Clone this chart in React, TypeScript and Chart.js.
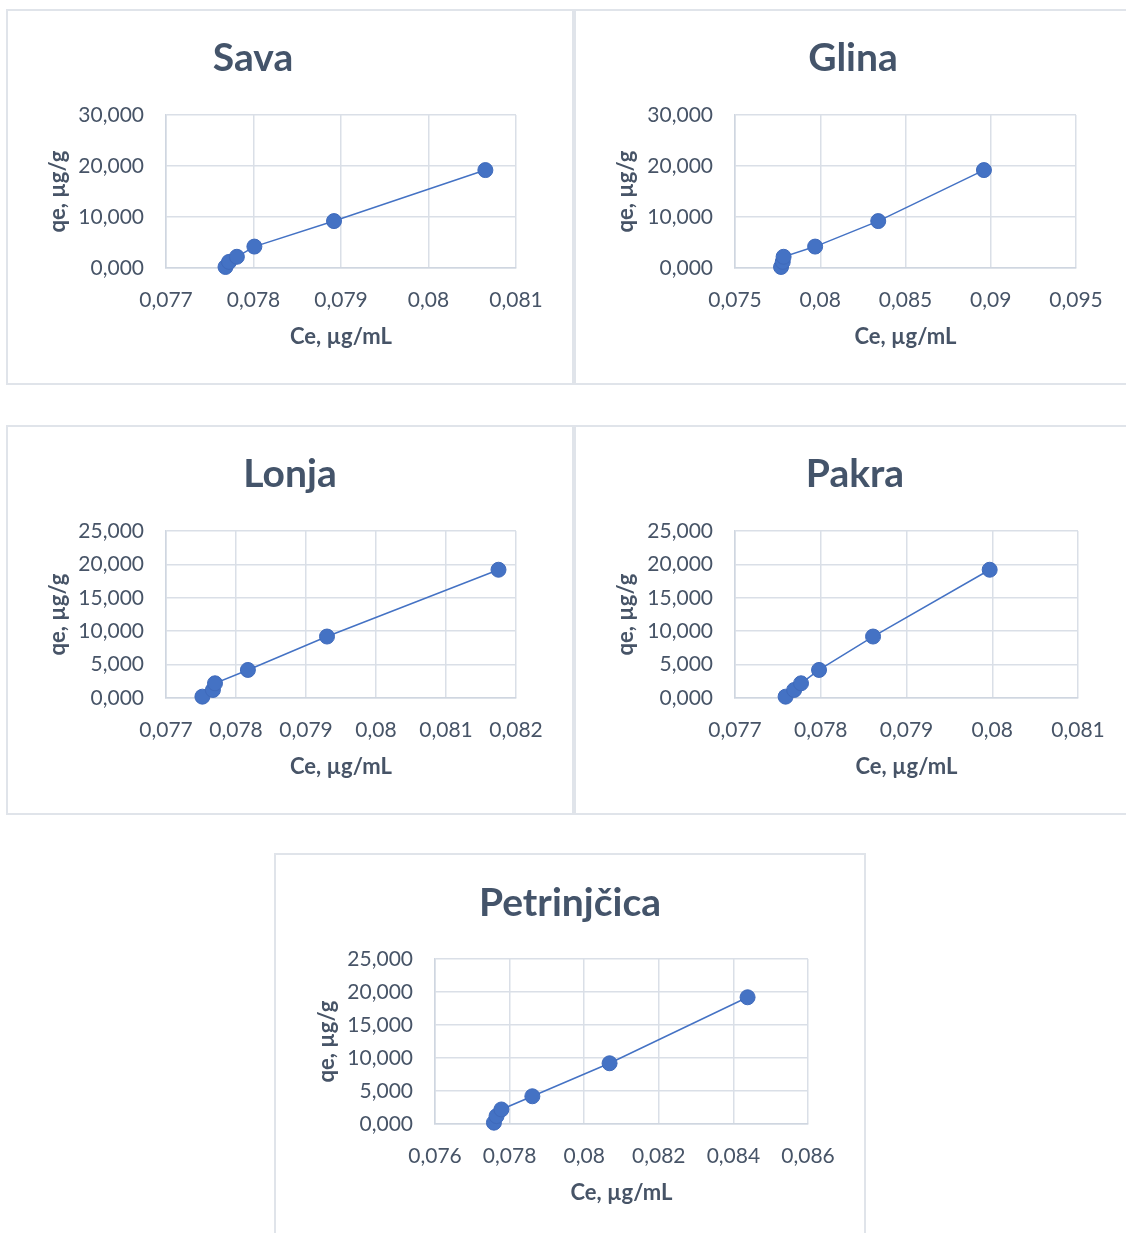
import React, { useEffect, useRef } from 'react';
import { Chart, registerables } from 'chart.js';

Chart.register(...registerables);

// ---------- DATA ----------
const titles = ['Sava', 'Glina', 'Lonja', 'Pakra', 'Petrinjčica'];
const xAxisTitle = 'Ce, µg/mL';
const yAxisTitle = 'qe, µg/g';

const qe = [0.2, 1.2, 2.2, 4.2, 9.2, 19.2];

const ceSava = [0.07768, 0.07772, 0.07781, 0.07801, 0.07892, 0.08065];
const ceGlina = [0.0777, 0.0778, 0.07785, 0.0797, 0.0834, 0.0896];
const ceLonja = [0.07752, 0.07767, 0.0777, 0.07817, 0.0793, 0.08175];
const cePakra = [0.07759, 0.07769, 0.07777, 0.07798, 0.07861, 0.07997];
const cePetrinjcica = [0.07758, 0.07765, 0.07778, 0.07861, 0.08068, 0.08438];

const xTicksSava = [0.077, 0.078, 0.079, 0.08, 0.081];
const xTicksGlina = [0.075, 0.08, 0.085, 0.09, 0.095];
const xTicksLonja = [0.077, 0.078, 0.079, 0.08, 0.081, 0.082];
const xTicksPakra = [0.077, 0.078, 0.079, 0.08, 0.081];
const xTicksPetrinjcica = [0.076, 0.078, 0.08, 0.082, 0.084, 0.086];

const yTicks30 = [0, 10, 20, 30];
const yTicks25 = [0, 5, 10, 15, 20, 25];

// ---------- STYLE / LAYOUT ----------
const FONT = 'Lato';
const TITLE_SIZE = 39;
const TICK_SIZE = 21;
const AXIS_TITLE_SIZE = 22;
const TITLE_COLOR = '#44546A';
const TEXT_COLOR = '#475467';
const GRID_COLOR = '#dadfe7';
const AXIS_COLOR = '#cfd6e0';
const SERIES_COLOR = '#4472C4';
const PANEL_BORDER = '#e0e4ea';

type Lay = {
  panel: [number, number, number, number];
  plot: [number, number, number, number];
  titleX: number;
  titleY: number;
  yTitleX: number;
  xTitleY: number;
};

const layouts: Lay[] = [
  { panel: [6, 9, 568, 376], plot: [166, 115, 516, 268], titleX: 253, titleY: 71, yTitleX: 58, xTitleY: 337 },
  { panel: [574, 9, 600, 376], plot: [735, 115, 1076, 268], titleX: 853, titleY: 71, yTitleX: 626, xTitleY: 337 },
  { panel: [6, 425, 568, 390], plot: [166, 531, 516, 698], titleX: 290, titleY: 487, yTitleX: 58, xTitleY: 767 },
  { panel: [574, 425, 600, 390], plot: [735, 531, 1078, 698], titleX: 855, titleY: 487, yTitleX: 626, xTitleY: 767 },
  { panel: [274, 853, 592, 420], plot: [435, 959, 808, 1124], titleX: 570, titleY: 916, yTitleX: 327, xTitleY: 1193 },
];

const fmtX = (v: number) => String(parseFloat(Number(v).toFixed(6))).replace('.', ',');
const fmtY = (v: number) => Number(v).toFixed(3).replace('.', ',');

type PanelProps = { title: string; ce: number[]; xTicks: number[]; yTicks: number[]; lay: Lay };

function Panel({ title, ce, xTicks, yTicks, lay }: PanelProps) {
  const ref = useRef<HTMLCanvasElement>(null);
  const [cx, cy, cw, ch] = lay.panel;

  useEffect(() => {
    if (!ref.current) return;
    const [x1, y1, x2, y2] = lay.plot;
    const half = (AXIS_TITLE_SIZE * 1.2) / 2;
    const yScaleLeft = lay.yTitleX - half;
    const Wy = x1 - yScaleLeft;
    const xScaleBottom = lay.xTitleY + half;
    const Hx = xScaleBottom - y2;
    const xTickPad = 32 - (TICK_SIZE * 1.2) / 2;

    const titlePlugin = {
      id: 'panelTitle',
      afterDraw(chart: any) {
        const ctx = chart.ctx;
        ctx.save();
        ctx.font = `bold ${TITLE_SIZE}px ${FONT}`;
        ctx.fillStyle = TITLE_COLOR;
        ctx.textAlign = 'center';
        ctx.textBaseline = 'alphabetic';
        ctx.fillText(title, lay.titleX - cx, lay.titleY - cy);
        ctx.restore();
      },
    };

    const chart = new Chart(ref.current, {
      type: 'scatter',
      data: {
        datasets: [
          {
            data: ce.map((x, i) => ({ x, y: qe[i] })),
            showLine: true,
            borderColor: SERIES_COLOR,
            borderWidth: 1.5,
            pointRadius: 7.5,
            pointBackgroundColor: SERIES_COLOR,
            pointBorderColor: '#3f6abb',
            pointBorderWidth: 1,
            clip: false as any,
          },
        ],
      },
      options: {
        responsive: false,
        animation: false,
        events: [],
        layout: {
          padding: {
            left: yScaleLeft - cx,
            top: y1 - cy,
            right: cx + cw - x2,
            bottom: cy + ch - xScaleBottom,
          },
        },
        plugins: {
          legend: { display: false },
          tooltip: { enabled: false },
          title: { display: false },
        },
        scales: {
          x: {
            type: 'linear',
            position: 'bottom',
            min: xTicks[0],
            max: xTicks[xTicks.length - 1],
            afterBuildTicks: (s: any) => {
              s.ticks = xTicks.map((v) => ({ value: v }));
            },
            afterFit: (s: any) => {
              s.height = Hx;
              s.paddingLeft = 0;
              s.paddingRight = 0;
            },
            ticks: {
              padding: xTickPad,
              autoSkip: false,
              maxRotation: 0,
              font: { family: FONT, size: TICK_SIZE },
              color: TEXT_COLOR,
              callback: (v: any) => fmtX(v),
            },
            grid: { color: GRID_COLOR, lineWidth: 1.5, drawTicks: false },
            border: { display: true, color: AXIS_COLOR, width: 1.5 },
            title: {
              display: true,
              text: xAxisTitle,
              font: { family: FONT, size: AXIS_TITLE_SIZE, weight: 'bold' },
              color: TEXT_COLOR,
              padding: 0,
            },
          },
          y: {
            type: 'linear',
            position: 'left',
            min: yTicks[0],
            max: yTicks[yTicks.length - 1],
            afterBuildTicks: (s: any) => {
              s.ticks = yTicks.map((v) => ({ value: v }));
            },
            afterFit: (s: any) => {
              s.width = Wy;
              s.paddingTop = 0;
              s.paddingBottom = 0;
            },
            ticks: {
              padding: 22,
              autoSkip: false,
              font: { family: FONT, size: TICK_SIZE },
              color: TEXT_COLOR,
              callback: (v: any) => fmtY(v),
            },
            grid: { color: GRID_COLOR, lineWidth: 1.5, drawTicks: false },
            border: { display: true, color: AXIS_COLOR, width: 1.5 },
            title: {
              display: true,
              text: yAxisTitle,
              font: { family: FONT, size: AXIS_TITLE_SIZE, weight: 'bold' },
              color: TEXT_COLOR,
              padding: 0,
            },
          },
        },
      } as any,
      plugins: [titlePlugin],
    });
    return () => chart.destroy();
  }, []);

  return (
    <>
      <div
        style={{
          position: 'absolute',
          left: cx,
          top: cy,
          width: cw,
          height: ch,
          border: `2px solid ${PANEL_BORDER}`,
          boxSizing: 'border-box',
          background: '#ffffff',
        }}
      />
      <canvas
        ref={ref}
        width={cw}
        height={ch}
        style={{ position: 'absolute', left: cx, top: cy, width: cw, height: ch }}
      />
    </>
  );
}

export default function App() {
  const series = [ceSava, ceGlina, ceLonja, cePakra, cePetrinjcica];
  const xTickSets = [xTicksSava, xTicksGlina, xTicksLonja, xTicksPakra, xTicksPetrinjcica];
  const yTickSets = [yTicks30, yTicks30, yTicks25, yTicks25, yTicks25];
  return (
    <div
      style={{
        position: 'absolute',
        left: 0,
        top: 0,
        width: 1126,
        height: 1233,
        overflow: 'hidden',
        background: '#ffffff',
      }}
    >
      {titles.map((t, i) => (
        <Panel key={t} title={t} ce={series[i]} xTicks={xTickSets[i]} yTicks={yTickSets[i]} lay={layouts[i]} />
      ))}
    </div>
  );
}
